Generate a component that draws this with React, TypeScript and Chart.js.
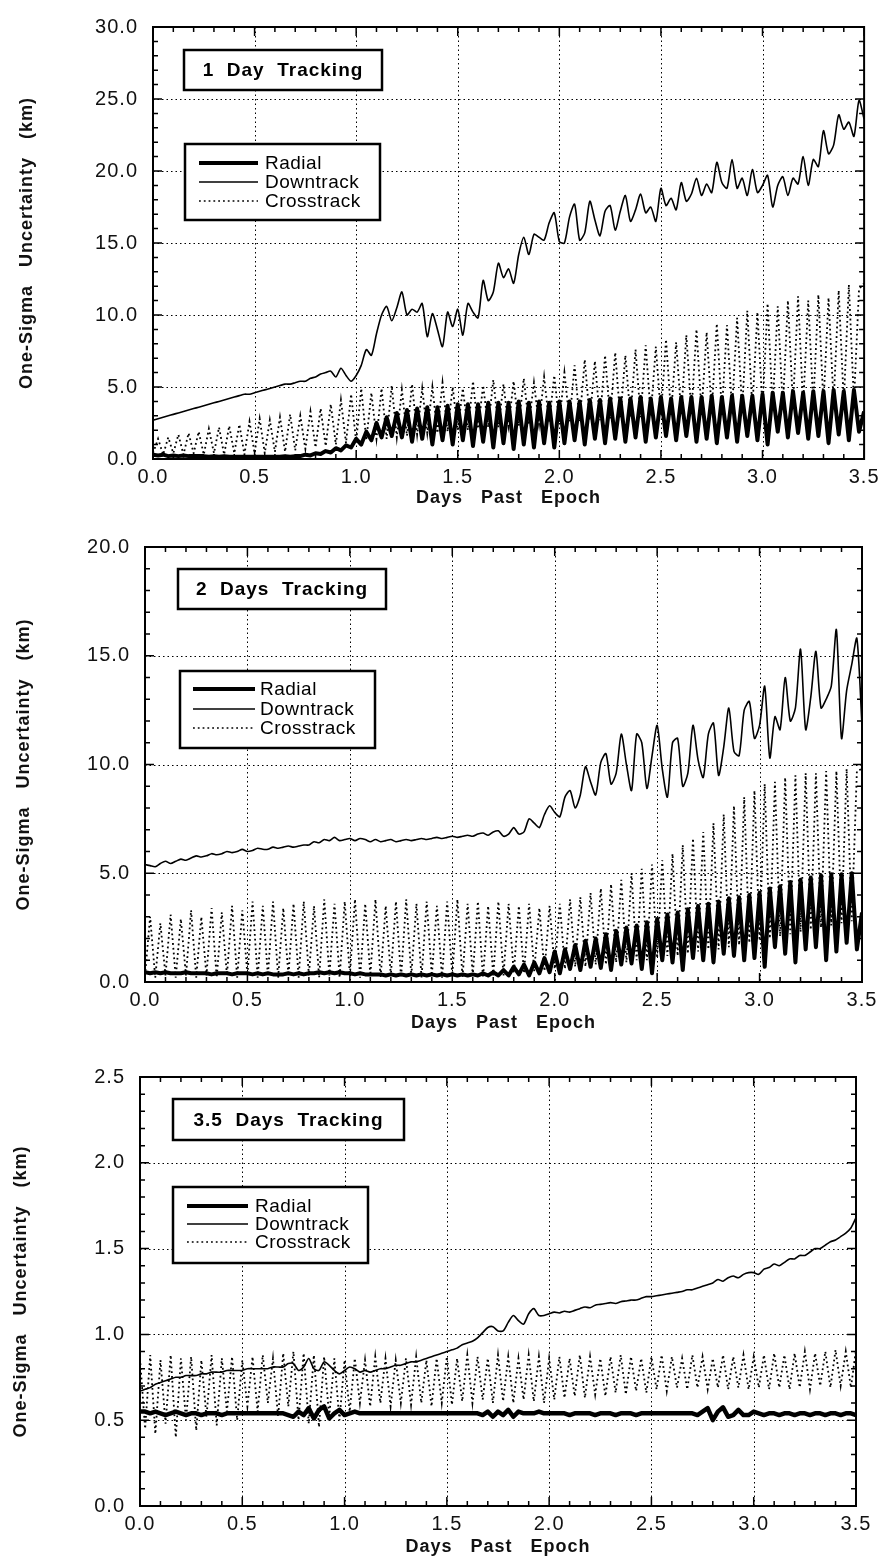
import React, { useEffect, useRef } from 'react';
import { Chart, registerables } from 'chart.js';

Chart.register(...registerables);

// Sample times (days past epoch), every 0.025 day
const DAYS = [
  0, 0.025, 0.05, 0.075, 0.1, 0.125, 0.15, 0.175, 0.2, 0.225, 0.25, 0.275, 0.3, 0.325, 0.35, 0.375, 0.4, 0.425, 0.45, 0.475,
  0.5, 0.525, 0.55, 0.575, 0.6, 0.625, 0.65, 0.675, 0.7, 0.725, 0.75, 0.775, 0.8, 0.825, 0.85, 0.875, 0.9, 0.925, 0.95, 0.975,
  1, 1.025, 1.05, 1.075, 1.1, 1.125, 1.15, 1.175, 1.2, 1.225, 1.25, 1.275, 1.3, 1.325, 1.35, 1.375, 1.4, 1.425, 1.45, 1.475,
  1.5, 1.525, 1.55, 1.575, 1.6, 1.625, 1.65, 1.675, 1.7, 1.725, 1.75, 1.775, 1.8, 1.825, 1.85, 1.875, 1.9, 1.925, 1.95, 1.975,
  2, 2.025, 2.05, 2.075, 2.1, 2.125, 2.15, 2.175, 2.2, 2.225, 2.25, 2.275, 2.3, 2.325, 2.35, 2.375, 2.4, 2.425, 2.45, 2.475,
  2.5, 2.525, 2.55, 2.575, 2.6, 2.625, 2.65, 2.675, 2.7, 2.725, 2.75, 2.775, 2.8, 2.825, 2.85, 2.875, 2.9, 2.925, 2.95, 2.975,
  3, 3.025, 3.05, 3.075, 3.1, 3.125, 3.15, 3.175, 3.2, 3.225, 3.25, 3.275, 3.3, 3.325, 3.35, 3.375, 3.4, 3.425, 3.45, 3.475,
  3.5,
];

const X_TICKS = [0, 0.5, 1, 1.5, 2, 2.5, 3, 3.5];
const Y1_TICKS = [0, 5, 10, 15, 20, 25, 30];
const Y2_TICKS = [0, 5, 10, 15, 20];
const Y3_TICKS = [0, 0.5, 1, 1.5, 2, 2.5];

const SERIES_LABELS = ['Radial', 'Downtrack', 'Crosstrack'];

// ---------- Panel 1: 1 Day Tracking ----------
const P1_RADIAL = [
  0.3, 0.25, 0.3, 0.2, 0.25, 0.2, 0.25, 0.2, 0.2, 0.2, 0.2, 0.15, 0.2, 0.15, 0.2, 0.15, 0.15, 0.15, 0.15, 0.15,
  0.15, 0.15, 0.15, 0.15, 0.15, 0.15, 0.2, 0.15, 0.2, 0.2, 0.3, 0.25, 0.4, 0.35, 0.55, 0.45, 0.75, 0.6, 0.95, 0.8,
  1.4, 1.0, 1.9, 1.3, 2.5, 1.5, 2.9, 1.6, 3.2, 1.5, 3.4, 1.2, 3.5, 1.4, 3.6, 1.0, 3.6, 1.3, 3.7, 1.0,
  3.8, 1.3, 3.8, 0.9, 3.8, 1.2, 3.9, 0.8, 3.9, 1.1, 3.9, 0.7, 4.0, 1.0, 3.9, 0.8, 4.0, 1.1, 3.9, 0.8,
  4.0, 1.1, 4.0, 1.3, 4.0, 1.0, 4.1, 1.4, 4.1, 1.1, 4.2, 1.4, 4.2, 1.2, 4.2, 1.5, 4.3, 1.2, 4.2, 1.5,
  4.3, 1.6, 4.2, 1.3, 4.3, 1.6, 4.3, 1.2, 4.3, 1.4, 4.4, 1.1, 4.3, 1.5, 4.4, 1.2, 4.4, 1.6, 4.4, 1.3,
  4.5, 1.0, 4.6, 1.9, 4.6, 1.5, 4.7, 1.8, 4.6, 1.4, 4.7, 1.6, 4.7, 1.1, 4.8, 1.7, 4.7, 1.3, 4.8, 1.9,
  3.3,
];
const P1_DOWN = [
  2.7, 2.8, 2.9, 3.0, 3.1, 3.2, 3.3, 3.4, 3.5, 3.6, 3.7, 3.8, 3.9, 4.0, 4.1, 4.2, 4.3, 4.4, 4.5, 4.5,
  4.6, 4.7, 4.8, 4.9, 5.0, 5.1, 5.2, 5.2, 5.3, 5.4, 5.4, 5.6, 5.7, 5.9, 6.0, 6.1, 5.7, 6.3, 5.8, 5.4,
  5.8, 6.5, 7.6, 7.2, 8.7, 10.0, 10.6, 9.6, 10.5, 11.6, 10.0, 10.4, 10.2, 10.8, 8.5, 10.1, 9.0, 7.8, 10.2, 9.2,
  10.4, 8.6, 10.8, 10.2, 9.8, 12.4, 11.0, 11.6, 13.6, 12.6, 13.2, 12.2, 14.2, 15.4, 14.2, 15.6, 15.4, 15.2, 16.4, 17.1,
  15.1, 15.0, 16.8, 17.7, 15.2, 15.7, 17.9, 16.6, 15.5, 17.2, 17.6, 15.9, 17.2, 18.3, 16.5, 17.3, 18.4, 17.1, 17.5, 16.5,
  18.8, 17.6, 18.1, 17.3, 19.2, 17.9, 18.4, 19.5, 18.3, 19.1, 18.5, 20.6, 19.2, 18.8, 20.8, 18.8, 19.5, 18.3, 20.1, 18.5,
  19.0, 19.7, 17.5, 19.0, 19.6, 18.3, 19.5, 19.1, 21.0, 19.0, 20.8, 20.3, 22.8, 21.2, 21.8, 23.9, 22.9, 23.4, 22.4, 24.9,
  23.6,
];
const P1_CROSS = [
  0.4, 1.4, 0.3, 1.5, 0.4, 1.7, 0.3, 1.8, 0.4, 1.9, 0.3, 2.1, 0.4, 2.2, 0.3, 2.3, 0.4, 2.4, 0.3, 2.6,
  0.4, 2.8, 0.4, 2.7, 0.5, 2.9, 0.5, 3.1, 0.6, 3.0, 0.7, 3.3, 0.8, 3.5, 0.9, 3.8, 1.0, 4.1, 1.1, 4.5,
  1.2, 4.9, 1.3, 4.6, 1.4, 4.9, 1.4, 5.1, 1.5, 4.8, 1.6, 5.2, 1.7, 4.9, 1.8, 5.0, 1.8, 5.3, 1.9, 5.0,
  2.0, 4.9, 2.0, 5.4, 2.1, 5.1, 2.2, 5.5, 2.2, 5.2, 2.3, 5.4, 2.3, 5.6, 2.4, 5.3, 2.4, 5.7, 2.5, 5.8,
  2.5, 6.0, 2.6, 6.5, 2.6, 6.9, 2.7, 6.8, 2.7, 7.2, 2.8, 7.4, 2.8, 7.2, 2.9, 7.6, 2.9, 7.9, 3.0, 7.8,
  3.0, 8.3, 3.1, 8.1, 3.1, 8.6, 3.2, 9.0, 3.2, 8.8, 3.3, 9.4, 3.3, 9.3, 3.4, 9.8, 3.4, 10.3, 3.5, 10.2,
  3.5, 10.8, 3.6, 10.6, 3.6, 11.0, 3.7, 11.3, 3.7, 11.0, 3.8, 11.4, 3.8, 11.2, 3.9, 11.7, 3.9, 12.1, 4.0, 11.8,
  12.2,
];

// ---------- Panel 2: 2 Days Tracking ----------
const P2_RADIAL = [
  0.45, 0.4, 0.45, 0.4, 0.45, 0.4, 0.4, 0.4, 0.45, 0.4, 0.4, 0.4, 0.4, 0.35, 0.4, 0.4, 0.4, 0.35, 0.4, 0.4,
  0.4, 0.35, 0.4, 0.35, 0.4, 0.35, 0.35, 0.35, 0.4, 0.35, 0.4, 0.35, 0.4, 0.4, 0.45, 0.4, 0.45, 0.4, 0.45, 0.4,
  0.4, 0.35, 0.4, 0.35, 0.35, 0.35, 0.35, 0.3, 0.35, 0.3, 0.35, 0.3, 0.35, 0.3, 0.35, 0.3, 0.35, 0.3, 0.35, 0.3,
  0.35, 0.3, 0.35, 0.3, 0.35, 0.3, 0.4, 0.3, 0.45, 0.3, 0.55, 0.3, 0.7, 0.35, 0.8, 0.3, 0.9, 0.4, 1.1, 0.45,
  1.4, 0.4, 1.5, 0.6, 1.7, 0.55, 1.9, 0.7, 2.0, 0.65, 2.2, 0.55, 2.35, 0.8, 2.5, 0.85, 2.6, 0.6, 2.75, 0.4,
  2.9, 1.0, 3.1, 0.9, 3.2, 0.55, 3.35, 1.1, 3.5, 1.0, 3.6, 0.9, 3.7, 1.3, 3.85, 1.2, 3.9, 1.0, 4.0, 1.1,
  4.1, 0.7, 4.3, 1.6, 4.4, 1.3, 4.6, 0.9, 4.7, 1.5, 4.8, 1.6, 4.9, 1.0, 4.95, 1.4, 4.95, 1.8, 5.0, 1.5,
  3.2,
];
const P2_DOWN = [
  5.4, 5.35, 5.3, 5.45, 5.55, 5.45, 5.55, 5.65, 5.6, 5.7, 5.8, 5.75, 5.8, 5.9, 5.85, 5.9, 6.0, 5.95, 6.0, 6.1,
  6.0, 6.05, 6.15, 6.1, 6.1, 6.2, 6.15, 6.2, 6.25, 6.2, 6.25, 6.3, 6.3, 6.45, 6.4, 6.55, 6.5, 6.65, 6.5, 6.55,
  6.6, 6.5, 6.6, 6.55, 6.45, 6.55, 6.45, 6.5, 6.55, 6.45, 6.5, 6.55, 6.5, 6.55, 6.6, 6.55, 6.6, 6.65, 6.6, 6.65,
  6.7, 6.65, 6.7, 6.75, 6.7, 6.8, 6.85, 6.75, 6.9, 6.95, 6.7, 6.8, 7.1, 6.8, 6.9, 7.5, 7.3, 7.1, 7.7, 8.1,
  7.8, 7.6, 8.5, 8.8, 8.0, 8.6, 9.9, 9.2, 8.6, 10.1, 10.5, 9.1, 9.6, 11.4, 10.0, 8.8, 11.4, 11.0, 8.9, 10.4,
  11.8, 9.8, 8.5, 11.0, 11.2, 9.0, 9.6, 11.8, 10.2, 9.4, 11.4, 11.9, 9.5, 10.8, 12.6, 10.6, 10.4, 12.5, 12.9, 11.2,
  11.8, 13.6, 10.3, 12.2, 11.6, 14.0, 12.0, 12.6, 15.3, 11.6, 13.1, 15.2, 12.6, 13.0, 13.6, 16.2, 11.2, 13.4, 14.6, 15.8,
  11.8,
];
const P2_CROSS = [
  0.3, 3.0, 0.2, 2.7, 0.3, 3.1, 0.2, 2.9, 0.3, 3.3, 0.2, 3.0, 0.3, 3.4, 0.2, 3.2, 0.3, 3.5, 0.2, 3.3,
  0.3, 3.7, 0.2, 3.5, 0.3, 3.7, 0.2, 3.4, 0.3, 3.6, 0.2, 3.7, 0.3, 3.5, 0.2, 3.8, 0.3, 3.6, 0.2, 3.7,
  0.3, 3.8, 0.2, 3.6, 0.3, 3.8, 0.2, 3.5, 0.3, 3.7, 0.2, 3.8, 0.3, 3.6, 0.2, 3.7, 0.3, 3.5, 0.2, 3.7,
  0.3, 3.8, 0.2, 3.6, 0.3, 3.7, 0.2, 3.5, 0.3, 3.7, 0.3, 3.6, 0.4, 3.5, 0.4, 3.6, 0.5, 3.4, 0.5, 3.5,
  0.6, 3.6, 0.6, 3.8, 0.7, 3.9, 0.7, 4.1, 0.8, 4.3, 0.8, 4.5, 0.9, 4.7, 0.9, 5.0, 1.0, 5.2, 1.0, 5.4,
  1.1, 5.6, 1.2, 5.9, 1.2, 6.3, 1.3, 6.6, 1.4, 6.9, 1.5, 7.3, 1.5, 7.7, 1.6, 8.1, 1.7, 8.5, 1.8, 8.8,
  1.9, 9.1, 2.0, 9.2, 2.1, 9.4, 2.2, 9.5, 2.3, 9.6, 2.4, 9.6, 2.5, 9.7, 2.6, 9.7, 2.7, 9.8, 2.8, 9.7,
  9.8,
];

// ---------- Panel 3: 3.5 Days Tracking ----------
const P3_RADIAL = [
  0.55, 0.55, 0.54, 0.55, 0.54, 0.53, 0.54, 0.55, 0.54, 0.53, 0.54, 0.54, 0.53, 0.54, 0.54, 0.54, 0.53, 0.54, 0.54, 0.54,
  0.54, 0.54, 0.54, 0.54, 0.54, 0.54, 0.54, 0.54, 0.54, 0.53, 0.52, 0.55, 0.53, 0.57, 0.51, 0.56, 0.58, 0.51, 0.54, 0.56,
  0.53, 0.54, 0.55, 0.54, 0.54, 0.54, 0.54, 0.54, 0.54, 0.54, 0.54, 0.54, 0.54, 0.54, 0.54, 0.54, 0.54, 0.54, 0.54, 0.54,
  0.54, 0.54, 0.54, 0.54, 0.54, 0.54, 0.54, 0.53, 0.55, 0.52, 0.55, 0.53, 0.56, 0.52, 0.55, 0.54, 0.54, 0.54, 0.55, 0.54,
  0.54, 0.54, 0.54, 0.54, 0.53, 0.54, 0.54, 0.54, 0.54, 0.53, 0.54, 0.54, 0.54, 0.53, 0.54, 0.54, 0.54, 0.53, 0.54, 0.54,
  0.54, 0.54, 0.54, 0.54, 0.54, 0.54, 0.54, 0.54, 0.54, 0.53, 0.55, 0.57, 0.5, 0.55, 0.575, 0.52, 0.53, 0.56, 0.53, 0.53,
  0.55, 0.54, 0.53, 0.54, 0.54, 0.53, 0.54, 0.54, 0.53, 0.54, 0.54, 0.53, 0.54, 0.54, 0.53, 0.54, 0.54, 0.53, 0.54, 0.54,
  0.53,
];
const P3_DOWN = [
  0.67, 0.68, 0.69, 0.71, 0.72, 0.73, 0.74, 0.75, 0.75, 0.76, 0.76, 0.76, 0.77, 0.77, 0.78, 0.78, 0.78, 0.79, 0.79, 0.79,
  0.79, 0.8, 0.8, 0.8, 0.8, 0.8, 0.81, 0.81, 0.81, 0.83, 0.83, 0.79, 0.81, 0.86, 0.8, 0.79, 0.84, 0.82, 0.79, 0.77,
  0.79, 0.81, 0.8, 0.78, 0.79, 0.78, 0.79, 0.8, 0.8, 0.81, 0.82, 0.82, 0.83, 0.84, 0.84, 0.85, 0.86, 0.87, 0.88, 0.89,
  0.9, 0.91, 0.92, 0.94, 0.95, 0.96, 0.98, 1.01, 1.04, 1.045, 1.02, 1.02, 1.07, 1.11, 1.08, 1.06, 1.12, 1.15, 1.11, 1.11,
  1.12, 1.13, 1.125, 1.135, 1.13, 1.14, 1.15, 1.16, 1.155, 1.17, 1.175, 1.18, 1.185, 1.18, 1.19, 1.195, 1.2, 1.2, 1.21, 1.22,
  1.22, 1.225, 1.23, 1.235, 1.24, 1.245, 1.25, 1.26, 1.26, 1.27, 1.28, 1.29, 1.3, 1.32, 1.31, 1.33, 1.34, 1.33, 1.35, 1.36,
  1.36, 1.35, 1.38, 1.39, 1.41, 1.4, 1.42, 1.44, 1.44, 1.46, 1.46, 1.48, 1.5, 1.5, 1.52, 1.54, 1.55, 1.57, 1.59, 1.62,
  1.68,
];
const P3_CROSS = [
  0.86, 0.45, 0.88, 0.42, 0.85, 0.48, 0.88, 0.4, 0.86, 0.5, 0.87, 0.44, 0.85, 0.52, 0.88, 0.47, 0.86, 0.55, 0.87, 0.5,
  0.85, 0.58, 0.87, 0.55, 0.88, 0.6, 0.86, 0.52, 0.89, 0.58, 0.9, 0.5, 0.89, 0.48, 0.88, 0.46, 0.87, 0.52, 0.86, 0.5,
  0.85, 0.55, 0.86, 0.6, 0.85, 0.58, 0.87, 0.6, 0.86, 0.58, 0.85, 0.6, 0.86, 0.59, 0.87, 0.6, 0.85, 0.58, 0.86, 0.6,
  0.87, 0.59, 0.86, 0.61, 0.88, 0.6, 0.87, 0.62, 0.86, 0.6, 0.88, 0.61, 0.87, 0.6, 0.86, 0.62, 0.88, 0.61, 0.87, 0.6,
  0.86, 0.62, 0.87, 0.63, 0.86, 0.64, 0.88, 0.63, 0.87, 0.65, 0.86, 0.64, 0.87, 0.66, 0.88, 0.65, 0.87, 0.67, 0.86, 0.66,
  0.87, 0.68, 0.88, 0.67, 0.87, 0.69, 0.86, 0.68, 0.88, 0.69, 0.87, 0.68, 0.86, 0.69, 0.88, 0.68, 0.87, 0.69, 0.88, 0.68,
  0.87, 0.69, 0.88, 0.68, 0.89, 0.69, 0.88, 0.68, 0.89, 0.69, 0.9, 0.68, 0.89, 0.7, 0.9, 0.69, 0.91, 0.7, 0.9, 0.69,
  0.91,
];

const FONT = '"Liberation Sans", Arial, Helvetica, sans-serif';

type Panel = {
  title: string;
  top: number; height: number;
  padTop: number; padRight: number; yWidth: number; xHeight: number;
  yMax: number; yTicks: number[]; yMinor: number; yTitlePad: number; xTitlePad: number;
  radial: number[]; down: number[]; cross: number[];
  radialWidth: number;
  titleBox: { x: number; y: number; w: number; h: number };
  legendBox: { x: number; y: number; w: number; h: number; rows: number[]; lx0: number; lx1: number; tx: number };
};

const PANELS: Panel[] = [
  {
    title: '1  Day  Tracking', top: 0, height: 520, padTop: 17, padRight: 17, yWidth: 153, xHeight: 61,
    yMax: 30, yTicks: Y1_TICKS, yMinor: 1, yTitlePad: 16, xTitlePad: 11,
    radial: P1_RADIAL, down: P1_DOWN, cross: P1_CROSS, radialWidth: 4,
    titleBox: { x: 31, y: 23, w: 198, h: 40 },
    legendBox: { x: 32, y: 117, w: 195, h: 76, rows: [136, 155, 174], lx0: 46, lx1: 105, tx: 112 },
  },
  {
    title: '2  Days  Tracking', top: 520, height: 530, padTop: 21, padRight: 22, yWidth: 145, xHeight: 68,
    yMax: 20, yTicks: Y2_TICKS, yMinor: 1, yTitlePad: 13, xTitlePad: 16,
    radial: P2_RADIAL, down: P2_DOWN, cross: P2_CROSS, radialWidth: 4,
    titleBox: { x: 33, y: 22, w: 208, h: 40 },
    legendBox: { x: 35, y: 124, w: 195, h: 77, rows: [142, 162, 181], lx0: 48, lx1: 110, tx: 115 },
  },
  {
    title: '3.5  Days  Tracking', top: 1050, height: 508, padTop: 16, padRight: 28, yWidth: 140, xHeight: 52,
    yMax: 2.5, yTicks: Y3_TICKS, yMinor: 0.1, yTitlePad: 10, xTitlePad: 0,
    radial: P3_RADIAL, down: P3_DOWN, cross: P3_CROSS, radialWidth: 4.5,
    titleBox: { x: 33, y: 22, w: 231, h: 41 },
    legendBox: { x: 33, y: 110, w: 195, h: 76, rows: [129, 147, 165], lx0: 47, lx1: 108, tx: 115 },
  },
];

const spacingPlugin = {
  id: 'spacing',
  beforeDraw(chart: any) { chart.ctx.letterSpacing = '1px'; },
  afterDraw(chart: any) { chart.ctx.letterSpacing = '0px'; },
};

const framePlugin = {
  id: 'frame',
  beforeDatasetsDraw(chart: any, _a: any, o: any) {
    const { ctx, chartArea: a, scales } = chart;
    const xs = scales.x, ys = scales.y;
    ctx.save();
    ctx.strokeStyle = '#000';
    ctx.lineWidth = 1;
    ctx.setLineDash([1.5, 3]);
    for (const v of o.xMajor) {
      if (v <= xs.min || v >= xs.max) continue;
      const px = Math.round(xs.getPixelForValue(v)) + 0.5;
      ctx.beginPath(); ctx.moveTo(px, a.top); ctx.lineTo(px, a.bottom); ctx.stroke();
    }
    for (const v of o.yMajor) {
      if (v <= ys.min || v >= ys.max) continue;
      const py = Math.round(ys.getPixelForValue(v)) + 0.5;
      ctx.beginPath(); ctx.moveTo(a.left, py); ctx.lineTo(a.right, py); ctx.stroke();
    }
    ctx.restore();
  },
  afterDatasetsDraw(chart: any, _a: any, o: any) {
    const { ctx, chartArea: a, scales } = chart;
    const xs = scales.x, ys = scales.y;
    ctx.save();
    ctx.setLineDash([]);
    ctx.strokeStyle = '#000';
    ctx.lineWidth = 1.5;
    ctx.beginPath();
    const nx = Math.round((xs.max - xs.min) / o.xMinor);
    for (let i = 0; i <= nx; i++) {
      const v = xs.min + i * o.xMinor;
      const r = v / o.xStep;
      const len = Math.abs(r - Math.round(r)) < 1e-6 ? 9 : 5;
      const px = xs.getPixelForValue(v);
      ctx.moveTo(px, a.bottom); ctx.lineTo(px, a.bottom - len);
      ctx.moveTo(px, a.top); ctx.lineTo(px, a.top + len);
    }
    const ny = Math.round((ys.max - ys.min) / o.yMinor);
    for (let i = 0; i <= ny; i++) {
      const v = ys.min + i * o.yMinor;
      const r = v / o.yStep;
      const len = Math.abs(r - Math.round(r)) < 1e-6 ? 9 : 5;
      const py = ys.getPixelForValue(v);
      ctx.moveTo(a.left, py); ctx.lineTo(a.left + len, py);
      ctx.moveTo(a.right, py); ctx.lineTo(a.right - len, py);
    }
    ctx.stroke();
    ctx.lineWidth = 2;
    ctx.strokeRect(a.left, a.top, a.right - a.left, a.bottom - a.top);
    ctx.restore();
  },
};

const boxPlugin = {
  id: 'boxes',
  afterDatasetsDraw(chart: any, _a: any, o: any) {
    const { ctx, chartArea: a } = chart;
    const t = o.titleBox;
    const l = o.legendBox;
    ctx.save();
    ctx.setLineDash([]);
    // title box
    ctx.fillStyle = '#fff';
    ctx.fillRect(a.left + t.x, a.top + t.y, t.w, t.h);
    ctx.strokeStyle = '#000';
    ctx.lineWidth = 2.5;
    ctx.strokeRect(a.left + t.x, a.top + t.y, t.w, t.h);
    ctx.fillStyle = '#000';
    ctx.font = `bold 19px ${FONT}`;
    ctx.letterSpacing = '1px';
    ctx.textAlign = 'center';
    ctx.textBaseline = 'middle';
    ctx.fillText(o.title, a.left + t.x + t.w / 2, a.top + t.y + t.h / 2 + 1);
    // legend box
    ctx.fillStyle = '#fff';
    ctx.fillRect(a.left + l.x, a.top + l.y, l.w, l.h);
    ctx.lineWidth = 2.5;
    ctx.strokeRect(a.left + l.x, a.top + l.y, l.w, l.h);
    ctx.font = `19px ${FONT}`;
    ctx.letterSpacing = '0.5px';
    ctx.textAlign = 'left';
    chart.data.datasets.forEach((ds: any, i: number) => {
      const y = a.top + l.rows[i];
      ctx.beginPath();
      ctx.lineWidth = i === 0 ? 4 : 1.5;
      ctx.setLineDash(ds.borderDash || []);
      ctx.moveTo(a.left + l.lx0, y);
      ctx.lineTo(a.left + l.lx1, y);
      ctx.stroke();
      ctx.setLineDash([]);
      ctx.fillStyle = '#000';
      ctx.fillText(ds.label, a.left + l.tx, y + 1);
    });
    ctx.restore();
  },
};

function PanelChart({ p }: { p: Panel }) {
  const ref = useRef<HTMLCanvasElement>(null);
  useEffect(() => {
    const canvas = ref.current;
    if (!canvas) return;
    const tickFont = { family: FONT, size: 20 };
    const titleFont = { family: FONT, size: 18, weight: 'bold' as const };
    const chart = new Chart(canvas, {
      type: 'line',
      data: {
        labels: DAYS,
        datasets: [
          { label: SERIES_LABELS[0], data: p.radial, borderColor: '#000', borderWidth: p.radialWidth, pointRadius: 0, tension: 0, borderJoinStyle: 'round' },
          { label: SERIES_LABELS[1], data: p.down, borderColor: '#000', borderWidth: 1.6, pointRadius: 0, tension: 0.25 },
          { label: SERIES_LABELS[2], data: p.cross, borderColor: '#000', borderWidth: 1.8, pointRadius: 0, tension: 0, borderDash: [1.8, 3] },
        ],
      } as any,
      options: {
        animation: false,
        responsive: false,
        devicePixelRatio: 1,
        events: [],
        layout: { padding: { top: p.padTop, right: p.padRight, left: 0, bottom: 0 } },
        plugins: {
          legend: { display: false },
          tooltip: { enabled: false },
          frame: { xMajor: X_TICKS, yMajor: p.yTicks, xStep: 0.5, xMinor: 0.1, yStep: p.yTicks[1], yMinor: p.yMinor },
          boxes: { title: p.title, titleBox: p.titleBox, legendBox: p.legendBox },
        } as any,
        scales: {
          x: {
            type: 'linear',
            min: 0,
            max: 3.5,
            afterFit: (s: any) => { s.height = p.xHeight; },
            afterBuildTicks: (s: any) => { s.ticks = X_TICKS.map((v) => ({ value: v })); },
            grid: { display: false, drawTicks: false },
            border: { display: false },
            ticks: { padding: 6, maxRotation: 0, autoSkip: false, color: '#111', font: tickFont, callback: (v: any) => Number(v).toFixed(1) },
            title: { display: true, text: 'Days   Past   Epoch', color: '#111', font: titleFont, padding: { top: 0, bottom: p.xTitlePad } },
          },
          y: {
            type: 'linear',
            min: 0,
            max: p.yMax,
            afterFit: (s: any) => { s.width = p.yWidth; },
            afterBuildTicks: (s: any) => { s.ticks = p.yTicks.map((v) => ({ value: v })); },
            grid: { display: false, drawTicks: false },
            border: { display: false },
            ticks: { padding: 15, color: '#111', font: tickFont, callback: (v: any) => Number(v).toFixed(1) },
            title: { display: true, text: 'One-Sigma   Uncertainty   (km)', color: '#111', font: titleFont, padding: { top: p.yTitlePad, bottom: 0 } },
          },
        },
      } as any,
      plugins: [spacingPlugin, framePlugin, boxPlugin],
    });
    return () => chart.destroy();
  }, [p]);
  return (
    <canvas
      ref={ref}
      width={884}
      height={p.height}
      style={{ position: 'absolute', left: 0, top: p.top, width: 884, height: p.height }}
    />
  );
}

export default function App() {
  return (
    <div style={{ position: 'absolute', left: 0, top: 0, width: 884, height: 1558, background: '#fff', overflow: 'hidden' }}>
      {PANELS.map((p, i) => (
        <PanelChart key={i} p={p} />
      ))}
    </div>
  );
}
